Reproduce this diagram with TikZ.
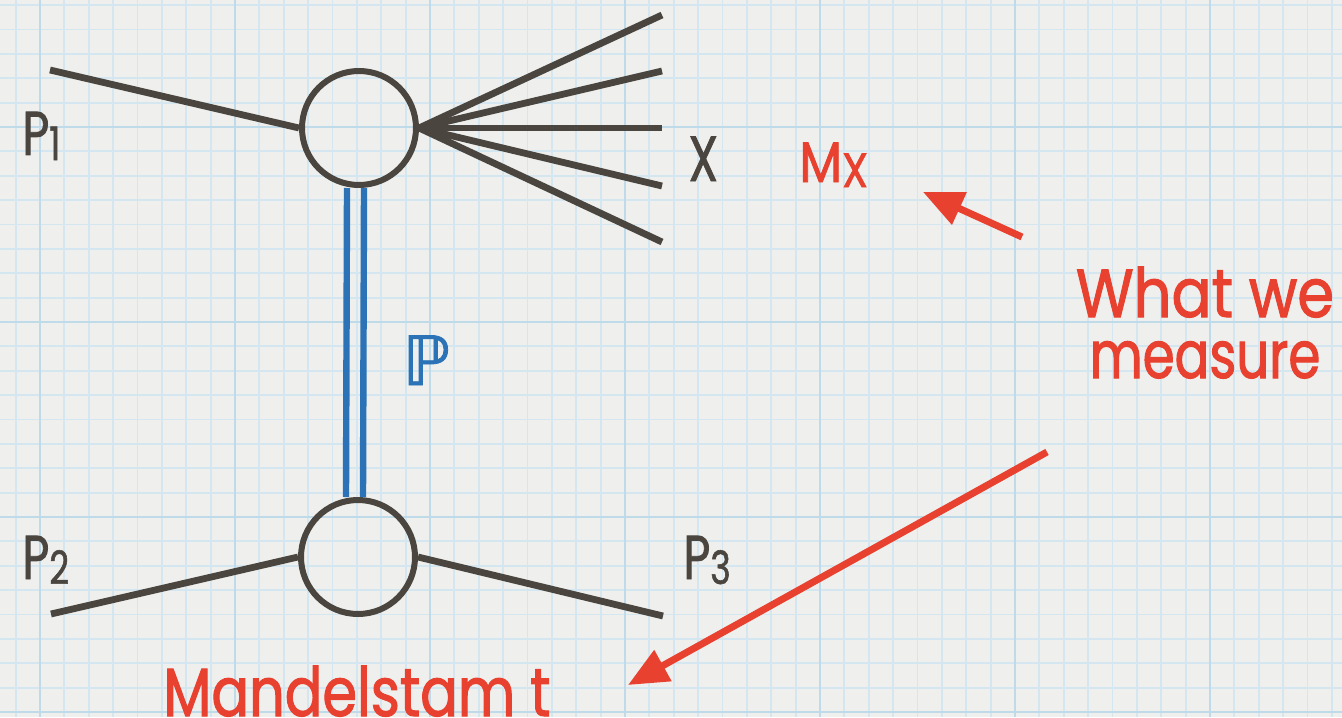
\documentclass[tikz,border=0pt]{standalone}
\usepackage{fontspec}
\setmainfont{Poppins}
\newfontfamily\condfont[FakeStretch=0.75,FakeBold=1.2]{Poppins}
\newfontfamily\redfont[FakeStretch=0.87,FakeBold=1.5]{Poppins}
\newfontfamily\rednarrow[FakeStretch=0.78,FakeBold=1.5]{Poppins}
\newfontfamily\redmid[FakeStretch=0.82,FakeBold=1.5]{Poppins}
\newfontfamily\djvfont[FakeBold=1.2]{DejaVu Sans}
\usetikzlibrary{arrows.meta}
\definecolor{bg}{HTML}{EFEFED}
\definecolor{gridminor}{HTML}{D4E6F0}
\definecolor{gridmajor}{HTML}{BFDBEA}
\definecolor{ink}{HTML}{4A463F}
\definecolor{pblue}{HTML}{2B73B6}
\definecolor{mred}{HTML}{E8412F}
\newcommand{\lsub}[1]{\raisebox{-2.5pt}{\fontsize{23}{23}\selectfont #1}}
\begin{document}
\begin{tikzpicture}[x=0.5pt,y=-0.5pt,
  vertex/.style={circle,draw=ink,line width=3pt,minimum size=57pt,inner sep=0pt},
  leg/.style={draw=ink,line width=3.4pt},
  pomeron/.style={draw=pblue,line width=3.2pt},
  lbl/.style={text=ink,font=\condfont\fontsize{31}{31}\selectfont,inner sep=0pt},
  redlbl/.style={text=mred,font=\redfont\fontsize{34}{34}\selectfont,inner sep=0pt},
  redarrow/.style={draw=mred,line width=3.5pt,-{Triangle[length=20pt,width=17pt]}}]
\useasboundingbox (0,0) rectangle (1342,717);
\clip (0,0) rectangle (1342,717);
\fill[bg] (0,0) rectangle (1342,717);
% grid
\foreach \k in {-1,...,53} \draw[gridminor,line width=0.9pt] ({40+\k*24.375},0) -- ({40+\k*24.375},717);
\foreach \k in {-5,...,24} \draw[gridminor,line width=0.9pt] (0,{127+\k*24.375}) -- (1342,{127+\k*24.375});
\foreach \k in {0,...,6} \draw[gridmajor,line width=1.4pt] ({40+\k*195},0) -- ({40+\k*195},717);
\foreach \k in {0,...,3} \draw[gridmajor,line width=1.4pt] (0,{127+\k*195}) -- (1342,{127+\k*195});
% vertices
\node[vertex] (v1) at (359,128) {};
\node[vertex] (v2) at (358,557) {};
% pomeron double line
\draw[pomeron] ([xshift=-6pt]v1.south) -- ([xshift=-6pt]v2.north);
\draw[pomeron] ([xshift=2.5pt]v1.south) -- ([xshift=2.5pt]v2.north);
% external legs
\coordinate (p1s) at (50,70);
\coordinate (p2s) at (51,614);
\coordinate (p3e) at (663,616);
\coordinate (x1) at (662,15);
\coordinate (x2) at (662,71);
\coordinate (x3) at (662,128);
\coordinate (x4) at (662,186);
\coordinate (x5) at (662,242);
\draw[leg] (p1s) -- (v1.west);
\draw[leg] (p2s) -- (v2.west);
\draw[leg] (v2.east) -- (p3e);
\foreach \t in {x1,x2,x3,x4,x5} \draw[leg] (v1.east) -- (\t);
% labels
\node[lbl,anchor=base west] (lp1) at (22,155) {P\lsub{1}};
\node[lbl,anchor=base west] (lp2) at (22,579) {P\lsub{2}};
\node[lbl,anchor=base west] (lp3) at (683,579) {P\lsub{3}};
\node[lbl,anchor=base west,font=\condfont\fontsize{32}{32}\selectfont] (lx) at (688,181) {X};
\node[text=pblue,font=\djvfont\fontsize{34}{34}\selectfont,inner sep=0pt,anchor=base west] (lpom) at (402,385) {ℙ};
\node[text=mred,font=\redfont\fontsize{28.5}{28.5}\selectfont,inner sep=0pt,anchor=base west] (lmx) at (799,182) {M\raisebox{-2.5pt}{\fontsize{24}{24}\selectfont X}};
\node[redlbl,anchor=base] (what) at (1205,317) {What we};
\node[redlbl,anchor=base,font=\rednarrow\fontsize{33}{33}\selectfont] (meas) at (1205,378) {measure};
\node[redlbl,anchor=base west,font=\redmid\fontsize{34}{34}\selectfont] (mand) at (163,716) {Mandelstam t};
% arrows
\coordinate (a1s) at (1022,237);
\coordinate (a1t) at (923,192);
\coordinate (a2s) at (1047,452);
\coordinate (a2t) at (628,685);
\draw[redarrow] (a1s) -- (a1t);
\draw[redarrow] (a2s) -- (a2t);
\end{tikzpicture}
\end{document}
